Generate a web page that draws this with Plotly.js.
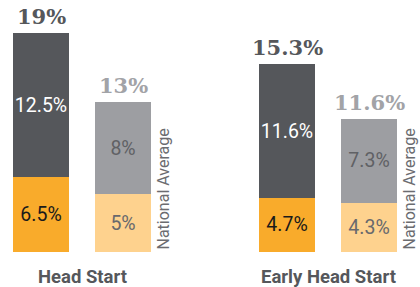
<!DOCTYPE html>
<html>
<head>
<meta charset="utf-8">
<script src="https://cdn.plot.ly/plotly-3.0.1.min.js"></script>
<style>html,body{margin:0;padding:0;background:#fff;}#chart{width:420px;height:287px;}</style>
</head>
<body>
<div id="chart"></div>
<script>
// Data
const categories = ["Head Start", "Head Start National Average", "gap", "Early Head Start", "Early Head Start National Average"];
const barCategories = ["Head Start", "Head Start National Average", "Early Head Start", "Early Head Start National Average"];
const bottomValues = [6.5, 5, 4.7, 4.3];
const topValues = [12.5, 8, 11.6, 7.3];
const totalLabels = ["19%", "13%", "15.3%", "11.6%"];
const groupLabels = ["Head Start", "Early Head Start"];
const nationalLabel = "National Average";

const isNat = [false, true, false, true];
const bottomColors = isNat.map(n => n ? "#fed28e" : "#f9ab2b");
const topColors = isNat.map(n => n ? "#9d9ea2" : "#55575b");
const bottomTextColors = isNat.map(n => n ? "#68696d" : "#1a1a1a");
const topTextColors = isNat.map(n => n ? "#606165" : "#ffffff");
const totalColors = isNat.map(n => n ? "#a2a3a7" : "#55575b");

const barWidth = 0.683;
const font = "Roboto, 'Liberation Sans', sans-serif";

const traces = [
  {
    type: "bar", x: barCategories, y: bottomValues,
    text: bottomValues.map(v => v + "%"),
    textposition: "inside", insidetextanchor: "middle", textangle: 0,
    constraintext: "none",
    textfont: {family: font, size: 19.5, color: bottomTextColors},
    marker: {color: bottomColors, line: {width: 0}},
    width: barWidth, hoverinfo: "none"
  },
  {
    type: "bar", x: barCategories, y: topValues,
    text: topValues.map(v => v + "%"),
    textposition: "inside", insidetextanchor: "middle", textangle: 0,
    constraintext: "none",
    textfont: {family: font, size: 19.5, color: topTextColors},
    marker: {color: topColors, line: {width: 0}},
    width: barWidth, hoverinfo: "none"
  }
];

const annotations = [];
barCategories.forEach((c, i) => {
  annotations.push({
    x: c, y: bottomValues[i] + topValues[i], xref: "x", yref: "y",
    text: "<b>" + totalLabels[i] + "</b>", showarrow: false,
    xanchor: "center", yanchor: "bottom", yshift: 2,
    font: {family: "'DejaVu Serif', serif", size: 21, color: totalColors[i]}
  });
  if (isNat[i]) {
    annotations.push({
      x: c, y: 0, xref: "x", yref: "y",
      text: nationalLabel, showarrow: false, textangle: -90,
      xanchor: "center", yanchor: "bottom", xshift: 40,
      font: {family: font, size: 16, color: "#6b6c70"}
    });
  }
});
groupLabels.forEach((g, k) => {
  annotations.push({
    x: k * 3 + 0.5, y: 0, xref: "x", yref: "y",
    text: "<b>" + g + "</b>", showarrow: false,
    xanchor: "center", yanchor: "top", yshift: -12,
    font: {family: font, size: 18.5, color: "#55575b"}
  });
});

const layout = {
  width: 420, height: 287,
  margin: {l: 0, r: 0, t: 0, b: 35},
  barmode: "stack",
  showlegend: false,
  paper_bgcolor: "#ffffff", plot_bgcolor: "#ffffff",
  xaxis: {type: "category", categoryorder: "array", categoryarray: categories,
          range: [-0.5, 4.622], showticklabels: false, showgrid: false,
          zeroline: false, showline: false, ticks: ""},
  yaxis: {range: [0, 21.9], showticklabels: false, showgrid: false,
          zeroline: false, showline: false, ticks: ""},
  annotations: annotations
};

Plotly.newPlot("chart", traces, layout, {displayModeBar: false, staticPlot: true});
</script>
</body>
</html>
